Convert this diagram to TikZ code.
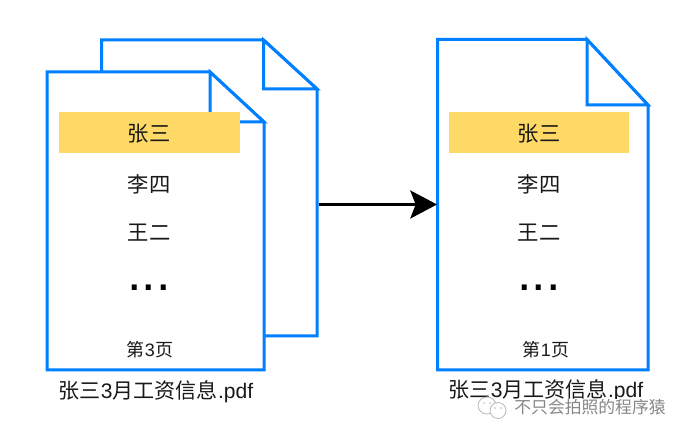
\documentclass[tikz,border=0pt]{standalone}
\usepackage{fontspec}
\setmainfont{Liberation Sans}
\newfontfamily\cjk{Noto Sans CJK SC}
\usetikzlibrary{arrows.meta}
\definecolor{cpage}{RGB}{0,127,255}
\definecolor{cmark}{RGB}{255,217,102}
\definecolor{cwater}{RGB}{135,135,135}
\definecolor{cicon}{RGB}{185,185,185}

\begin{document}
\begin{tikzpicture}[x=0.75pt,y=-0.75pt,>=Stealth,
  pageline/.style={draw=cpage,line width=2.25pt,fill=white,line join=miter},
  markbar/.style={fill=cmark,draw=none},
  rowtext/.style={font=\cjk\fontsize{16}{18}\selectfont,text=black!90},
  dotstext/.style={font=\fontsize{39}{40}\selectfont,text=black,anchor=base,inner sep=0pt},
  pagetext/.style={font=\fontsize{13.5}{16}\selectfont,text=black!90},
  filetext/.style={font=\fontsize{15.8}{18}\selectfont,text=black!90},
  watertext/.style={font=\cjk\fontsize{12.6}{15}\selectfont,text=cwater}]
\useasboundingbox (0,0) rectangle (687,438);
\fill[white] (0,0) rectangle (687,438);
% ===================== back page =====================
\draw[pageline] (101.5,40) -- (263.5,40) -- (317,89) -- (317,336) -- (101.5,336) -- cycle;
\draw[pageline] (263.5,40) -- (263.5,89) -- (317,89) -- cycle;
% ===================== front page =====================
\draw[pageline] (47,72) -- (210,72) -- (264,122) -- (264,370) -- (47,370) -- cycle;
\draw[pageline] (210,72) -- (210,122) -- (264,122) -- cycle;
\fill[markbar] (59,112) rectangle (239.5,153);
\node[rowtext] (zhangL) at (149,134) {张三};
\node[rowtext] (liL) at (149,184.5) {李四};
\node[rowtext] (wangL) at (149,233) {王二};
\node[dotstext] (dotsL) at (149,291) {...};
\node[pagetext] (pageL) at (150,350) {{\cjk 第}3{\cjk 页}};
\node[filetext] (fileL) at (156,392) {{\cjk 张三}3{\cjk 月工资信息}.pdf};
% ===================== result page =====================
\draw[pageline] (437.5,39.5) -- (587,39.5) -- (648,105) -- (648,370) -- (437.5,370) -- cycle;
\draw[pageline] (587,39.5) -- (587,105) -- (648,105) -- cycle;
\fill[markbar] (449,112) rectangle (628.5,153);
\node[rowtext] (zhangR) at (539,134) {张三};
\node[rowtext] (liR) at (539,184.5) {李四};
\node[rowtext] (wangR) at (539,233) {王二};
\node[dotstext] (dotsR) at (539,291) {...};
\node[pagetext] (pageR) at (546,350) {{\cjk 第}1{\cjk 页}};
\node[filetext] (fileR) at (546,391) {{\cjk 张三}3{\cjk 月工资信息}.pdf};
% ===================== arrow =====================
\coordinate (backedge) at (318.5,204.5);
\coordinate (resultedge) at (437,204.5);
\draw[->,line width=2.25pt,black,>={Stealth[length=20pt,width=21pt,inset=4pt]}] (backedge) -- (resultedge);
% ===================== watermark =====================
\fill[white] (512,399) rectangle (667,417);
\draw[cicon,line width=0.6pt,fill=white] (487,405.5) ellipse (9 and 8.5);
\draw[cicon,line width=0.6pt,fill=white] (498,410.5) ellipse (8 and 8);
\foreach \x/\y in {484/403,490/403,495/408,501/408}{
  \fill[cicon] (\x,\y) circle (0.9);}
\node[watertext] (water) at (590,407) {不只会拍照的程序猿};
\end{tikzpicture}
\end{document}
